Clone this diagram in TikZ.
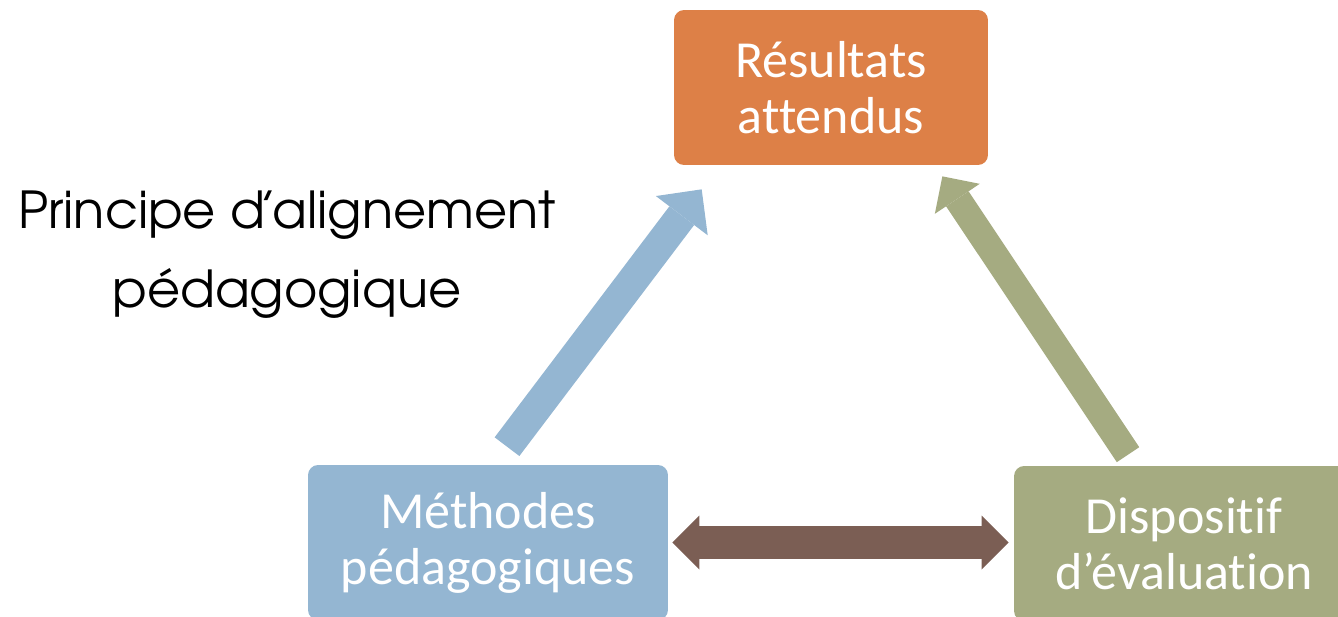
\documentclass[tikz,border=0pt]{standalone}
\usepackage{fontspec}
\setmainfont{Carlito}[Ligatures={NoCommon}]
\newfontfamily\titlefont{texgyreadventor-regular.otf}
\usetikzlibrary{arrows.meta}
\definecolor{resorange}{HTML}{DD8047}
\definecolor{metblue}{HTML}{94B6D2}
\definecolor{disgreen}{HTML}{A5AB81}
\definecolor{linkbrown}{HTML}{7B5E54}
\tikzset{
  box/.style={rectangle,rounded corners=0.2cm,inner sep=0pt,minimum height=3.1cm,
    text=white,align=center,font=\fontsize{29.6}{31.9}\selectfont},
  bluearrow/.style={metblue,line width=0.62cm,
    -{Triangle[length=0.66cm,width=1.3cm,line width=0pt]}},
  greenarrow/.style={disgreen,line width=0.54cm,
    -{Triangle[length=0.54cm,width=1.08cm,line width=0pt]}},
  brownarrow/.style={linkbrown,line width=0.66cm,
    {Triangle[length=0.54cm,width=1.08cm,line width=0pt]}-{Triangle[length=0.54cm,width=1.08cm,line width=0pt]}}
}
\begin{document}
\begin{tikzpicture}[x=0.02cm,y=-0.02cm] % alignment triangle
        \useasboundingbox (0,0) rectangle (1338,616);
        \clip (0,0) rectangle (1338,616);
        \node[box,fill=resorange,minimum width=6.28cm] (res) at (831,87.5) {Résultats\\attendus};
        \node[box,fill=metblue,minimum width=7.2cm] (met) at (488,542.5) {Méthodes\\pédagogiques};
        \node[box,fill=disgreen,minimum width=6.8cm] (dis) at (1184,543.5) {Dispositif\\d’évaluation};
        \node[align=center,font=\titlefont\fontsize{29}{45}\selectfont] (title) at (287,255)
                {Principe d\kern-.1em’\kern-.1em alignement\\pédagogique};
        \draw[bluearrow] ([shift={(19,-18)}]met.north) -- ([shift={(28,24)}]res.south west);
        \draw[greenarrow] ([shift={(-56,-11)}]dis.north) -- ([shift={(-46,11)}]res.south east);
        \draw[brownarrow] ([shift={(4,0)}]met.east) -- ([shift={(-5,-1)}]dis.west);
     \end{tikzpicture}
\end{document}
